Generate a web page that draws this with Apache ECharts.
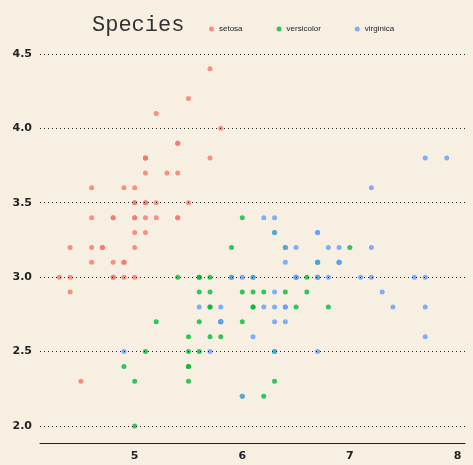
<!DOCTYPE html>
<html><head><meta charset="utf-8">
<script src="https://cdn.jsdelivr.net/npm/echarts@6/dist/echarts.min.js"></script>
<style>html,body{margin:0;background:#f7f0e2}#c{width:473px;height:465px}</style>
</head><body><div id="c"></div>
<script>
var setosa = [[5.1,3.5],[4.9,3.0],[4.7,3.2],[4.6,3.1],[5.0,3.6],[5.4,3.9],[4.6,3.4],[5.0,3.4],[4.4,2.9],[4.9,3.1],[5.4,3.7],[4.8,3.4],[4.8,3.0],[4.3,3.0],[5.8,4.0],[5.7,4.4],[5.4,3.9],[5.1,3.5],[5.7,3.8],[5.1,3.8],[5.4,3.4],[5.1,3.7],[4.6,3.6],[5.1,3.3],[4.8,3.4],[5.0,3.0],[5.0,3.4],[5.2,3.5],[5.2,3.4],[4.7,3.2],[4.8,3.1],[5.4,3.4],[5.2,4.1],[5.5,4.2],[4.9,3.1],[5.0,3.2],[5.5,3.5],[4.9,3.6],[4.4,3.0],[5.1,3.4],[5.0,3.5],[4.5,2.3],[4.4,3.2],[5.0,3.5],[5.1,3.8],[4.8,3.0],[5.1,3.8],[4.6,3.2],[5.3,3.7],[5.0,3.3]];
var versicolor = [[7.0,3.2],[6.4,3.2],[6.9,3.1],[5.5,2.3],[6.5,2.8],[5.7,2.8],[6.3,3.3],[4.9,2.4],[6.6,2.9],[5.2,2.7],[5.0,2.0],[5.9,3.0],[6.0,2.2],[6.1,2.9],[5.6,2.9],[6.7,3.1],[5.6,3.0],[5.8,2.7],[6.2,2.2],[5.6,2.5],[5.9,3.2],[6.1,2.8],[6.3,2.5],[6.1,2.8],[6.4,2.9],[6.6,3.0],[6.8,2.8],[6.7,3.0],[6.0,2.9],[5.7,2.6],[5.5,2.4],[5.5,2.4],[5.8,2.7],[6.0,2.7],[5.4,3.0],[6.0,3.4],[6.7,3.1],[6.3,2.3],[5.6,3.0],[5.5,2.5],[5.5,2.6],[6.1,3.0],[5.8,2.6],[5.0,2.3],[5.6,2.7],[5.7,3.0],[5.7,2.9],[6.2,2.9],[5.1,2.5],[5.7,2.8]];
var virginica = [[6.3,3.3],[5.8,2.7],[7.1,3.0],[6.3,2.9],[6.5,3.0],[7.6,3.0],[4.9,2.5],[7.3,2.9],[6.7,2.5],[7.2,3.6],[6.5,3.2],[6.4,2.7],[6.8,3.0],[5.7,2.5],[5.8,2.8],[6.4,3.2],[6.5,3.0],[7.7,3.8],[7.7,2.6],[6.0,2.2],[6.9,3.2],[5.6,2.8],[7.7,2.8],[6.3,2.7],[6.7,3.3],[7.2,3.2],[6.2,2.8],[6.1,3.0],[6.4,2.8],[7.2,3.0],[7.4,2.8],[7.9,3.8],[6.4,2.8],[6.3,2.8],[6.1,2.6],[7.7,3.0],[6.3,3.4],[6.4,3.1],[6.0,3.0],[6.9,3.1],[6.7,3.1],[6.9,3.1],[5.8,2.7],[6.8,3.2],[6.7,3.3],[6.7,3.0],[6.3,2.5],[6.5,3.0],[6.2,3.4],[5.9,3.0]];
var speciesNames = ['setosa', 'versicolor', 'virginica'];
var gridValues = [2, 2.5, 3, 3.5, 4, 4.5];
var colors = ['#f8766d', '#00ba38', '#619cff'];

var chart = echarts.init(document.getElementById('c'));
var lbl = {color: '#222', fontWeight: 'bold', fontSize: 11, fontFamily: 'DejaVu Sans'};
chart.setOption({
  backgroundColor: '#f7f0e2',
  color: colors,
  animation: false,
  graphic: [{type: 'text', left: 92, top: 14, style: {text: 'Species', font: '22px "Liberation Mono", monospace', fill: '#333'}}],
  legend: {
    left: 204, top: 20, itemWidth: 5, itemHeight: 5, itemGap: 34, icon: 'circle',
    textStyle: {fontSize: 8, color: '#222', fontFamily: 'Liberation Sans'},
    data: speciesNames
  },
  grid: {left: 40, right: 8, top: 39, bottom: 22},
  xAxis: {
    type: 'value', min: 4.12, max: 8.07,
    axisLine: {show: true, lineStyle: {color: '#222'}},
    axisTick: {show: false}, splitLine: {show: false},
    axisLabel: Object.assign({customValues: [5, 6, 7, 8]}, lbl)
  },
  yAxis: {
    type: 'value', min: 1.886, max: 4.6,
    axisLine: {show: false}, axisTick: {show: false}, splitLine: {show: false},
    axisLabel: Object.assign({customValues: gridValues, formatter: function (v) { return v.toFixed(1); }}, lbl)
  },
  series: [setosa, versicolor, virginica].map(function (d, i) {
    var s = {name: speciesNames[i], type: 'scatter', data: d, symbolSize: 5};
    if (i === 0) {
      s.markLine = {silent: true, symbol: 'none', label: {show: false},
        lineStyle: {color: '#222', type: [1, 3], width: 1},
        data: gridValues.map(function (v) { return {yAxis: v}; })};
    }
    return s;
  })
});
</script></body></html>
